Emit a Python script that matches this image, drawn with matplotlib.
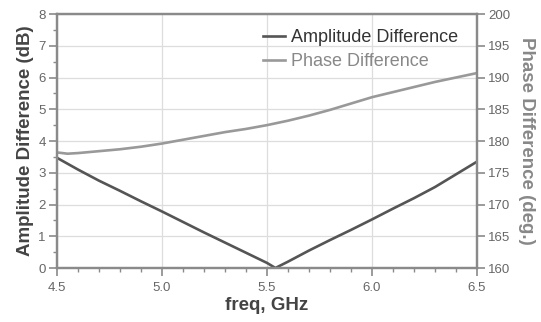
import matplotlib
matplotlib.use("Agg")
import matplotlib.pyplot as plt
from matplotlib.ticker import MultipleLocator

plt.rcParams['font.family'] = ['Liberation Sans', 'DejaVu Sans']

freq = [4.5, 4.6, 4.7, 4.8, 4.9, 5.0, 5.1, 5.2, 5.3, 5.4, 5.5, 5.54,
        5.6, 5.7, 5.8, 5.9, 6.0, 6.1, 6.2, 6.3, 6.4, 6.5]
amp_db = [3.47, 3.1, 2.75, 2.43, 2.1, 1.78, 1.45, 1.12, 0.8, 0.48, 0.16, 0.0,
          0.2, 0.55, 0.88, 1.2, 1.53, 1.87, 2.2, 2.55, 2.95, 3.35]
phase_freq = [4.5, 4.55, 4.6, 4.7, 4.8, 4.9, 5.0, 5.1, 5.2, 5.3, 5.4, 5.5,
              5.6, 5.7, 5.8, 5.9, 6.0, 6.1, 6.2, 6.3, 6.4, 6.5]
phase_deg = [178.2, 178.0, 178.1, 178.4, 178.7, 179.1, 179.6, 180.2, 180.8, 181.4, 181.9, 182.5,
             183.2, 184.0, 184.9, 185.9, 186.9, 187.7, 188.5, 189.3, 190.0, 190.7]

x_ticks = [4.5, 5.0, 5.5, 6.0, 6.5]
x_ticklabels = ["4.5", "5.0", "5.5", "6.0", "6.5"]

amp_color = "#555555"
phase_color = "#999999"
spine_color = "#8a8a8a"
tick_color = "#666666"

fig = plt.figure(figsize=(5.41, 3.22), dpi=100)
ax = fig.add_axes([0.1054, 0.1677, 0.7763, 0.7888])
ax2 = ax.twinx()

ax.plot(freq, amp_db, color=amp_color, lw=1.9, label="Amplitude Difference")
ax2.plot(phase_freq, phase_deg, color=phase_color, lw=1.9, label="Phase Difference")

ax.set_xlim(4.5, 6.5)
ax.set_ylim(0, 8)
ax2.set_ylim(160, 200)
ax.set_xticks(x_ticks)
ax.set_xticklabels(x_ticklabels)
ax.xaxis.set_minor_locator(MultipleLocator(0.1))
ax.yaxis.set_major_locator(MultipleLocator(1))
ax.yaxis.set_minor_locator(MultipleLocator(0.5))
ax2.yaxis.set_major_locator(MultipleLocator(5))

ax.grid(True, which='major', color="#dddddd", lw=0.9)
ax.set_axisbelow(True)

for a in (ax, ax2):
    for s in a.spines.values():
        s.set_color(spine_color)
        s.set_linewidth(1.6)
    a.tick_params(which='major', color=spine_color, length=6, width=1.2,
                  labelcolor=tick_color, labelsize=9.5, pad=2)
    a.tick_params(which='minor', color=spine_color, length=3, width=1.0)
ax.tick_params(axis='x', which='major', pad=4)

ax.set_xlabel("freq, GHz", fontsize=13.5, fontweight='bold', color="#444444", labelpad=2)
ax.set_ylabel("Amplitude Difference (dB)", fontsize=13.5, fontweight='bold', color="#444444", labelpad=3)
ax2.set_ylabel("Phase Difference (deg.)", fontsize=13.5, fontweight='bold', color="#888888",
               rotation=270, labelpad=18)

h1, l1 = ax.get_legend_handles_labels()
h2, l2 = ax2.get_legend_handles_labels()
leg = ax2.legend(h1 + h2, l1 + l2, loc='upper right', frameon=False, fontsize=13,
                 handlelength=1.2, handletextpad=0.35, borderaxespad=0.3,
                 labelspacing=0.4, bbox_to_anchor=(0.985, 0.99))
leg.get_texts()[0].set_color("#333333")
leg.get_texts()[1].set_color("#888888")

fig.savefig("out.png", dpi=100)
